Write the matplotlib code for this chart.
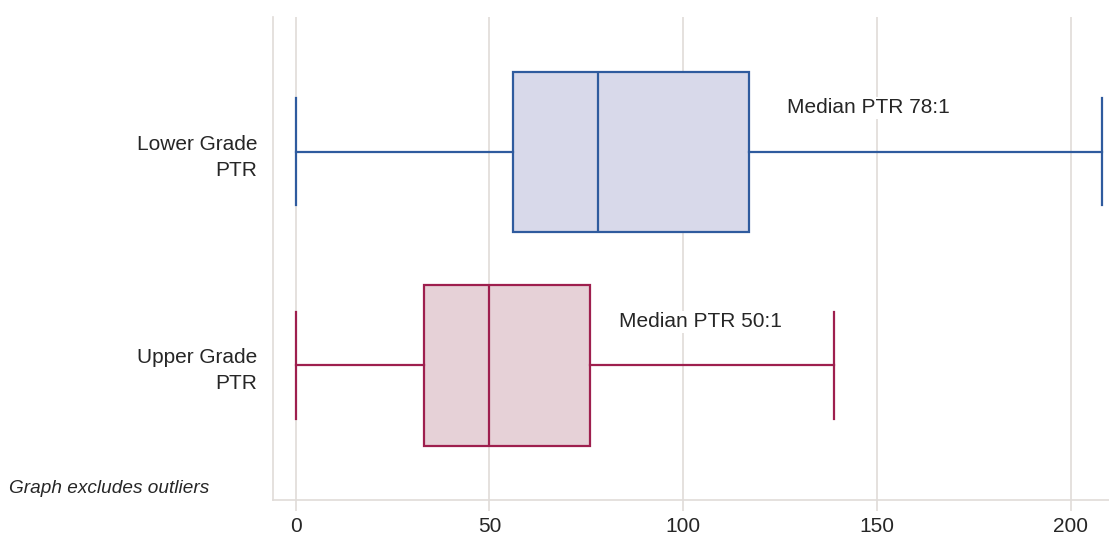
"""
Boxplot of pupil-teacher ratio (PTR), lower vs upper grade.
Outliers are excluded, so the box statistics are passed directly to bxp.
"""

import matplotlib
matplotlib.use("Agg")
import matplotlib.pyplot as plt

# data
grupos = ["Upper Grade\nPTR", "Lower Grade\nPTR"]
minimos = [0, 0]
q1 = [33, 56]
medianas = [50, 78]
q3 = [76, 117]
maximos = [139, 208]
rotulos_mediana = ["Median PTR 50:1", "Median PTR 78:1"]
rotulos_x = [83.4, 126.7]
xticks = [0, 50, 100, 150, 200]

cores_linha = ["#9e1f4e", "#2f5b9e"]
cores_fundo = ["#e6d1d7", "#d8d9ea"]
cor_grade = "#e0dbd8"
cor_texto = "#262626"

plt.rcParams["font.family"] = ["Liberation Sans", "DejaVu Sans"]

fig = plt.figure(figsize=(11.09, 5.36), dpi=100)
ax = fig.add_axes([0.246, 0.067, 0.754, 0.901])

for i in range(len(grupos)):
    c = cores_linha[i]
    s = {"whislo": minimos[i], "q1": q1[i], "med": medianas[i],
         "q3": q3[i], "whishi": maximos[i], "fliers": []}
    ax.bxp([s], positions=[i], widths=0.75, vert=False, patch_artist=True,
           showfliers=False, showcaps=True,
           boxprops=dict(facecolor=cores_fundo[i], edgecolor=c, linewidth=1.6),
           medianprops=dict(color=c, linewidth=1.6),
           whiskerprops=dict(color=c, linewidth=1.6),
           capprops=dict(color=c, linewidth=1.6),
           capwidths=0.5, zorder=3)
    ax.text(rotulos_x[i], i + 0.205, rotulos_mediana[i], fontsize=15,
            color=cor_texto, va="center", ha="left",
            bbox=dict(facecolor="white", edgecolor="none", pad=1), zorder=2)

ax.set_xlim(-5.9, 209.9)
ax.set_ylim(-0.63, 1.63)
ax.set_xticks(xticks)
ax.set_yticks(range(len(grupos)))
ax.set_yticklabels(grupos, fontsize=15, color=cor_texto, linespacing=1.45)
ax.tick_params(axis="y", length=0, pad=11)
ax.tick_params(axis="x", length=8, width=1.2, color=cor_grade, labelsize=15,
               labelcolor=cor_texto, pad=4)
ax.grid(axis="x", color=cor_grade, linewidth=1.2, zorder=0)
ax.set_axisbelow(True)

for lado in ["top", "right"]:
    ax.spines[lado].set_visible(False)
for lado in ["left", "bottom"]:
    ax.spines[lado].set_color(cor_grade)
    ax.spines[lado].set_linewidth(1.2)

fig.text(0.008, 0.089, "Graph excludes outliers", fontsize=13.7, style="italic",
         color=cor_texto, va="center", ha="left")

fig.savefig("out.png", dpi=100)
